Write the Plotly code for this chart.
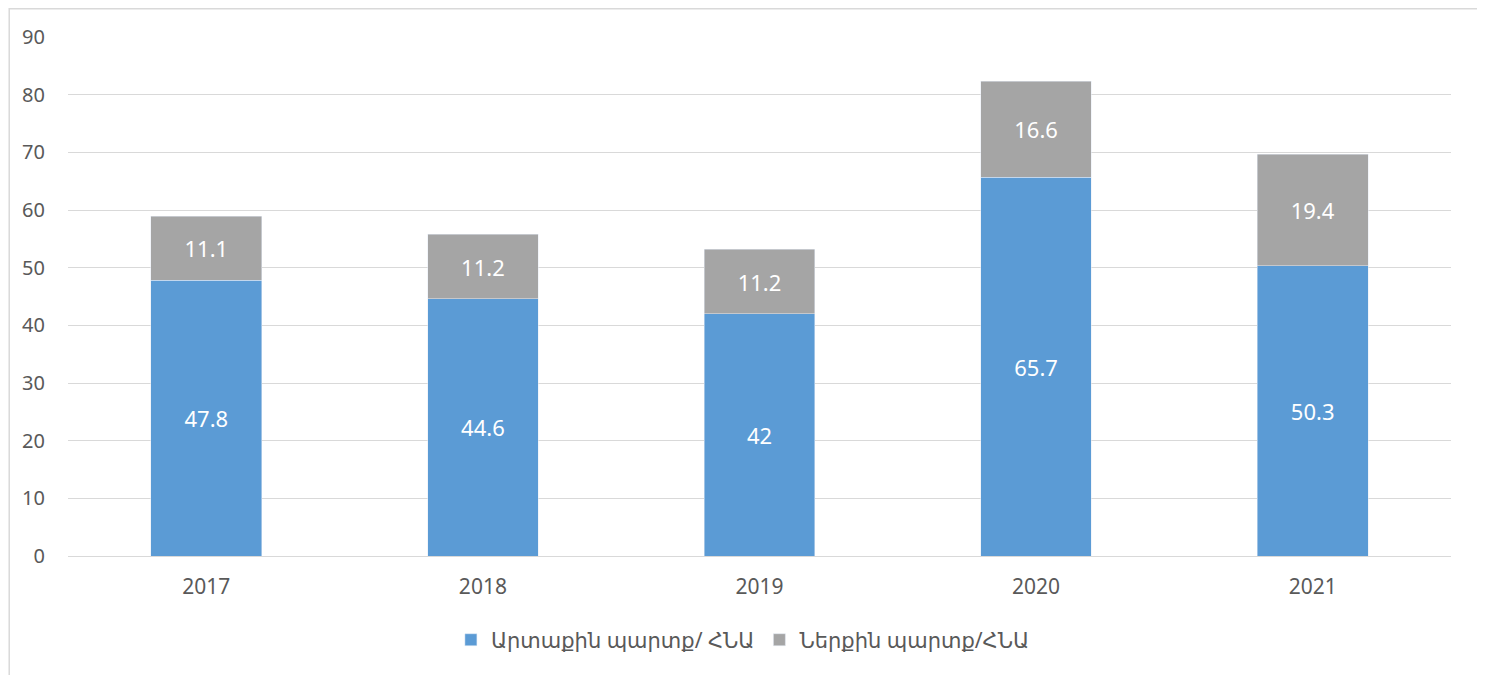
import plotly.graph_objects as go

years = ["2017", "2018", "2019", "2020", "2021"]
external = [47.8, 44.6, 42, 65.7, 50.3]
domestic = [11.1, 11.2, 11.2, 16.6, 19.4]
name_ext = "Արտաքին պարտք/ ՀՆԱ"
name_dom = "Ներքին պարտք/ՀՆԱ"

font_family = "Noto Sans, DejaVu Sans, sans-serif"

fig = go.Figure()
fig.add_trace(go.Bar(x=years, y=external, name=name_ext, marker_color="#5B9BD5",
                     text=[str(v) for v in external], textposition="inside",
                     insidetextanchor="middle",
                     textfont=dict(color="white", size=22, family=font_family)))
fig.add_trace(go.Bar(x=years, y=domestic, name=name_dom, marker_color="#A5A5A5",
                     text=[str(v) for v in domestic], textposition="inside",
                     insidetextanchor="middle",
                     textfont=dict(color="white", size=22, family=font_family)))

fig.update_layout(
    barmode="stack",
    bargap=0.6,
    width=1477, height=667,
    margin=dict(l=60, r=34, t=29, b=119),
    plot_bgcolor="white", paper_bgcolor="white",
    font=dict(family=font_family, size=20, color="#595959"),
    uniformtext=dict(mode="show", minsize=10),
    legend=dict(orientation="h", x=0.488, xanchor="center", y=-0.162, yanchor="middle",
                font=dict(size=21, color="#595959"), traceorder="normal",
                itemwidth=30),
    xaxis=dict(showline=True, linecolor="#D9D9D9", linewidth=1, ticks="",
               ticklabelstandoff=12,
               tickfont=dict(size=21, color="#595959")),
    yaxis=dict(range=[0, 90], dtick=10, showgrid=True, gridcolor="#D9D9D9",
               gridwidth=1, zeroline=False, ticks="", ticklabelstandoff=22,
               tickfont=dict(size=20, color="#595959")),
    shapes=[dict(type="rect", xref="paper", yref="paper",
                 x0=-0.0425, x1=1.021, y0=-0.26, y1=1.0545,
                 line=dict(color="#D9D9D9", width=1.5), fillcolor="rgba(0,0,0,0)",
                 layer="below")],
)

fig.write_html("out.html")
